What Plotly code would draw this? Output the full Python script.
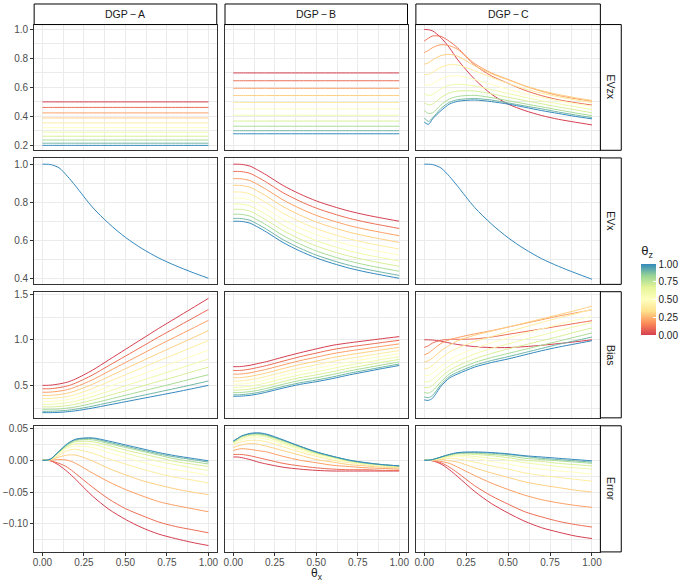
import plotly.graph_objects as go
from plotly.colors import sample_colorscale

# ---------------- data ----------------
theta_x = [0, 0.025, 0.05, 0.1, 0.15, 0.2, 0.3, 0.4, 0.5, 0.6, 0.7, 0.8, 0.9, 1.0]
theta_z = [0.0, 0.1, 0.2, 0.3, 0.4, 0.5, 0.6, 0.7, 0.8, 0.9, 1.0]

# EVzx, DGP-A and DGP-B are flat in theta_x: one level per theta_z
evzx_A = [0.500, 0.462, 0.424, 0.389, 0.355, 0.322, 0.291, 0.263, 0.237, 0.215, 0.200]
evzx_B = [0.700, 0.646, 0.594, 0.544, 0.496, 0.451, 0.408, 0.368, 0.332, 0.301, 0.280]

evzx_C = [
    [1.000, 0.998, 0.990, 0.943, 0.874, 0.790, 0.657, 0.554, 0.485, 0.440, 0.406, 0.380, 0.360, 0.341],
    [0.920, 0.940, 0.955, 0.952, 0.918, 0.872, 0.755, 0.680, 0.628, 0.580, 0.543, 0.515, 0.495, 0.478],
    [0.840, 0.855, 0.875, 0.895, 0.887, 0.862, 0.765, 0.700, 0.655, 0.610, 0.573, 0.544, 0.522, 0.505],
    [0.760, 0.770, 0.790, 0.820, 0.828, 0.815, 0.750, 0.695, 0.652, 0.611, 0.578, 0.551, 0.529, 0.510],
    [0.690, 0.690, 0.705, 0.740, 0.757, 0.755, 0.715, 0.670, 0.627, 0.590, 0.560, 0.535, 0.514, 0.495],
    [0.620, 0.615, 0.625, 0.660, 0.678, 0.680, 0.655, 0.620, 0.587, 0.557, 0.531, 0.508, 0.488, 0.470],
    [0.555, 0.545, 0.550, 0.590, 0.615, 0.622, 0.610, 0.585, 0.558, 0.532, 0.508, 0.487, 0.467, 0.447],
    [0.495, 0.480, 0.485, 0.530, 0.562, 0.575, 0.575, 0.556, 0.532, 0.509, 0.487, 0.465, 0.445, 0.425],
    [0.440, 0.420, 0.425, 0.480, 0.520, 0.538, 0.545, 0.530, 0.508, 0.487, 0.466, 0.445, 0.424, 0.405],
    [0.390, 0.365, 0.390, 0.455, 0.497, 0.515, 0.523, 0.513, 0.493, 0.472, 0.452, 0.430, 0.410, 0.392],
    [0.360, 0.345, 0.383, 0.440, 0.485, 0.504, 0.513, 0.502, 0.485, 0.463, 0.440, 0.420, 0.400, 0.383],
]

# EVx, DGP-A and DGP-C do not depend on theta_z
evx_A = [1.000, 1.000, 0.998, 0.981, 0.937, 0.885, 0.775, 0.688, 0.615, 0.556, 0.507, 0.467, 0.432, 0.400]
evx_C = [1.000, 1.000, 0.998, 0.980, 0.936, 0.883, 0.773, 0.686, 0.613, 0.553, 0.503, 0.463, 0.428, 0.395]

evx_B = [
    [1.000, 1.000, 0.999, 0.990, 0.968, 0.943, 0.888, 0.844, 0.807, 0.778, 0.753, 0.733, 0.716, 0.700],
    [0.962, 0.962, 0.961, 0.952, 0.930, 0.905, 0.850, 0.806, 0.769, 0.740, 0.715, 0.695, 0.678, 0.662],
    [0.924, 0.924, 0.923, 0.914, 0.892, 0.867, 0.812, 0.768, 0.731, 0.702, 0.677, 0.657, 0.640, 0.624],
    [0.889, 0.889, 0.888, 0.879, 0.857, 0.832, 0.777, 0.733, 0.696, 0.667, 0.642, 0.622, 0.605, 0.589],
    [0.854, 0.854, 0.853, 0.844, 0.822, 0.797, 0.742, 0.698, 0.661, 0.632, 0.607, 0.587, 0.570, 0.554],
    [0.822, 0.822, 0.821, 0.812, 0.790, 0.765, 0.710, 0.666, 0.629, 0.600, 0.575, 0.555, 0.538, 0.522],
    [0.791, 0.791, 0.790, 0.781, 0.759, 0.734, 0.679, 0.635, 0.598, 0.569, 0.544, 0.524, 0.507, 0.491],
    [0.763, 0.763, 0.762, 0.753, 0.731, 0.706, 0.651, 0.607, 0.570, 0.541, 0.516, 0.496, 0.479, 0.463],
    [0.737, 0.737, 0.736, 0.727, 0.705, 0.680, 0.625, 0.581, 0.544, 0.515, 0.490, 0.470, 0.453, 0.437],
    [0.715, 0.715, 0.714, 0.705, 0.683, 0.658, 0.603, 0.559, 0.522, 0.493, 0.468, 0.448, 0.431, 0.415],
    [0.700, 0.700, 0.699, 0.690, 0.668, 0.643, 0.588, 0.544, 0.507, 0.478, 0.453, 0.433, 0.416, 0.400],
]

bias_A = [
    [0.500, 0.500, 0.502, 0.515, 0.535, 0.570, 0.665, 0.780, 0.895, 1.010, 1.125, 1.235, 1.345, 1.455],
    [0.462, 0.462, 0.463, 0.475, 0.493, 0.525, 0.612, 0.717, 0.821, 0.926, 1.031, 1.131, 1.232, 1.333],
    [0.424, 0.424, 0.426, 0.436, 0.453, 0.482, 0.560, 0.655, 0.750, 0.845, 0.940, 1.031, 1.122, 1.214],
    [0.389, 0.389, 0.390, 0.399, 0.414, 0.440, 0.511, 0.596, 0.682, 0.767, 0.852, 0.934, 1.017, 1.101],
    [0.355, 0.355, 0.356, 0.364, 0.377, 0.400, 0.464, 0.540, 0.616, 0.692, 0.769, 0.842, 0.917, 0.992],
    [0.322, 0.322, 0.323, 0.330, 0.342, 0.362, 0.418, 0.486, 0.553, 0.621, 0.688, 0.754, 0.820, 0.888],
    [0.291, 0.291, 0.292, 0.298, 0.309, 0.326, 0.376, 0.435, 0.495, 0.554, 0.613, 0.671, 0.730, 0.790],
    [0.263, 0.263, 0.263, 0.268, 0.278, 0.293, 0.337, 0.388, 0.440, 0.492, 0.544, 0.594, 0.647, 0.700],
    [0.237, 0.237, 0.237, 0.241, 0.250, 0.263, 0.301, 0.346, 0.391, 0.436, 0.480, 0.525, 0.571, 0.617],
    [0.215, 0.215, 0.215, 0.219, 0.226, 0.238, 0.271, 0.310, 0.349, 0.388, 0.427, 0.466, 0.506, 0.548],
    [0.200, 0.200, 0.200, 0.203, 0.210, 0.220, 0.250, 0.285, 0.320, 0.355, 0.390, 0.425, 0.462, 0.500],
]

bias_B = [
    [0.705, 0.705, 0.707, 0.720, 0.740, 0.760, 0.810, 0.857, 0.900, 0.940, 0.967, 0.990, 1.013, 1.035],
    [0.663, 0.663, 0.665, 0.678, 0.697, 0.717, 0.766, 0.813, 0.854, 0.893, 0.922, 0.946, 0.971, 0.994],
    [0.623, 0.623, 0.625, 0.637, 0.656, 0.676, 0.724, 0.770, 0.809, 0.848, 0.878, 0.904, 0.930, 0.955],
    [0.584, 0.584, 0.586, 0.598, 0.616, 0.636, 0.684, 0.728, 0.766, 0.805, 0.836, 0.864, 0.891, 0.917],
    [0.547, 0.547, 0.549, 0.560, 0.578, 0.598, 0.645, 0.689, 0.725, 0.763, 0.796, 0.825, 0.854, 0.881],
    [0.512, 0.512, 0.514, 0.524, 0.541, 0.561, 0.608, 0.651, 0.686, 0.723, 0.758, 0.788, 0.818, 0.847],
    [0.479, 0.479, 0.481, 0.490, 0.507, 0.527, 0.573, 0.615, 0.649, 0.686, 0.722, 0.753, 0.785, 0.814],
    [0.448, 0.448, 0.450, 0.459, 0.475, 0.495, 0.541, 0.583, 0.615, 0.651, 0.689, 0.721, 0.754, 0.784],
    [0.420, 0.420, 0.422, 0.431, 0.446, 0.466, 0.512, 0.553, 0.584, 0.620, 0.658, 0.692, 0.725, 0.757],
    [0.396, 0.396, 0.398, 0.407, 0.422, 0.442, 0.487, 0.527, 0.558, 0.593, 0.633, 0.667, 0.701, 0.734],
    [0.380, 0.380, 0.382, 0.390, 0.405, 0.425, 0.470, 0.510, 0.540, 0.575, 0.615, 0.650, 0.685, 0.718],
]

bias_C = [
    [1.000, 1.000, 0.997, 0.985, 0.965, 0.948, 0.925, 0.915, 0.915, 0.925, 0.940, 0.958, 0.978, 1.000],
    [0.916, 0.935, 0.965, 0.995, 1.005, 1.005, 1.010, 1.030, 1.060, 1.090, 1.120, 1.150, 1.180, 1.210],
    [0.834, 0.855, 0.890, 0.960, 1.000, 1.025, 1.065, 1.100, 1.140, 1.180, 1.220, 1.260, 1.295, 1.330],
    [0.755, 0.770, 0.800, 0.880, 0.940, 0.990, 1.050, 1.095, 1.140, 1.185, 1.230, 1.275, 1.320, 1.370],
    [0.680, 0.690, 0.720, 0.800, 0.865, 0.910, 0.980, 1.035, 1.090, 1.140, 1.190, 1.240, 1.285, 1.335],
    [0.608, 0.610, 0.635, 0.710, 0.780, 0.830, 0.905, 0.965, 1.020, 1.070, 1.120, 1.170, 1.215, 1.260],
    [0.541, 0.540, 0.565, 0.645, 0.715, 0.765, 0.845, 0.905, 0.955, 1.005, 1.050, 1.100, 1.145, 1.190],
    [0.478, 0.475, 0.500, 0.590, 0.665, 0.715, 0.790, 0.850, 0.900, 0.945, 0.990, 1.035, 1.085, 1.130],
    [0.421, 0.415, 0.440, 0.540, 0.625, 0.675, 0.750, 0.805, 0.850, 0.895, 0.940, 0.985, 1.030, 1.075],
    [0.373, 0.365, 0.390, 0.510, 0.598, 0.645, 0.720, 0.772, 0.815, 0.860, 0.905, 0.950, 0.990, 1.030],
    [0.340, 0.335, 0.360, 0.490, 0.580, 0.625, 0.700, 0.750, 0.790, 0.835, 0.880, 0.920, 0.955, 0.990],
]

error_A = [
    [0.000, 0.000, -0.001, -0.008, -0.018, -0.030, -0.056, -0.077, -0.093, -0.106, -0.116, -0.123, -0.129, -0.134],
    [0.000, 0.000, -0.001, -0.005, -0.011, -0.021, -0.042, -0.061, -0.076, -0.087, -0.097, -0.104, -0.109, -0.114],
    [0.000, 0.000, 0.000, 0.001, 0.000, -0.005, -0.020, -0.034, -0.046, -0.056, -0.065, -0.071, -0.076, -0.081],
    [0.000, 0.000, 0.001, 0.005, 0.008, 0.008, -0.001, -0.013, -0.023, -0.032, -0.039, -0.045, -0.050, -0.054],
    [0.000, 0.000, 0.001, 0.008, 0.015, 0.017, 0.011, 0.002, -0.006, -0.014, -0.021, -0.027, -0.031, -0.036],
    [0.000, 0.000, 0.0015, 0.010, 0.019, 0.022, 0.020, 0.012, 0.004, -0.003, -0.010, -0.015, -0.019, -0.024],
    [0.000, 0.000, 0.002, 0.012, 0.021, 0.026, 0.025, 0.018, 0.011, 0.004, -0.002, -0.007, -0.012, -0.016],
    [0.000, 0.000, 0.002, 0.013, 0.023, 0.029, 0.029, 0.023, 0.016, 0.010, 0.004, -0.002, -0.006, -0.010],
    [0.000, 0.000, 0.002, 0.013, 0.024, 0.031, 0.032, 0.026, 0.020, 0.014, 0.008, 0.002, -0.002, -0.006],
    [0.000, 0.000, 0.002, 0.014, 0.025, 0.032, 0.034, 0.028, 0.022, 0.016, 0.010, 0.005, 0.001, -0.003],
    [0.000, 0.000, 0.002, 0.014, 0.026, 0.033, 0.035, 0.030, 0.024, 0.018, 0.012, 0.007, 0.003, -0.001],
]

error_B = [
    [0.005, 0.005, 0.004, 0.001, -0.003, -0.006, -0.011, -0.014, -0.016, -0.017, -0.017, -0.017, -0.017, -0.017],
    [0.009, 0.009, 0.009, 0.007, 0.004, 0.001, -0.005, -0.009, -0.012, -0.014, -0.015, -0.015, -0.016, -0.016],
    [0.015, 0.017, 0.018, 0.017, 0.015, 0.013, 0.006, 0.000, -0.004, -0.008, -0.010, -0.012, -0.013, -0.014],
    [0.020, 0.022, 0.024, 0.026, 0.025, 0.022, 0.015, 0.008, 0.001, -0.003, -0.007, -0.009, -0.011, -0.012],
    [0.024, 0.027, 0.029, 0.031, 0.031, 0.029, 0.021, 0.013, 0.006, 0.000, -0.004, -0.007, -0.010, -0.011],
    [0.026, 0.029, 0.032, 0.035, 0.035, 0.033, 0.025, 0.016, 0.008, 0.002, -0.003, -0.006, -0.009, -0.010],
    [0.027, 0.031, 0.034, 0.038, 0.038, 0.036, 0.027, 0.018, 0.010, 0.004, -0.002, -0.005, -0.008, -0.010],
    [0.028, 0.032, 0.036, 0.039, 0.040, 0.038, 0.029, 0.020, 0.011, 0.005, -0.001, -0.005, -0.008, -0.010],
    [0.029, 0.033, 0.037, 0.041, 0.041, 0.039, 0.031, 0.021, 0.012, 0.005, -0.001, -0.005, -0.007, -0.009],
    [0.030, 0.034, 0.038, 0.041, 0.042, 0.040, 0.031, 0.022, 0.013, 0.006, 0.000, -0.004, -0.007, -0.009],
    [0.030, 0.034, 0.038, 0.042, 0.043, 0.041, 0.032, 0.022, 0.013, 0.006, 0.000, -0.004, -0.007, -0.009],
]

error_C = [
    [0.000, 0.000, -0.001, -0.006, -0.015, -0.026, -0.049, -0.068, -0.083, -0.096, -0.106, -0.113, -0.119, -0.123],
    [0.000, 0.000, -0.001, -0.004, -0.011, -0.020, -0.040, -0.056, -0.069, -0.081, -0.089, -0.096, -0.101, -0.105],
    [0.000, 0.000, 0.000, -0.002, -0.005, -0.011, -0.024, -0.036, -0.046, -0.055, -0.062, -0.067, -0.071, -0.074],
    [0.000, 0.000, 0.000, 0.001, -0.001, -0.003, -0.012, -0.020, -0.027, -0.034, -0.039, -0.043, -0.047, -0.050],
    [0.000, 0.000, 0.000, 0.002, 0.003, 0.002, -0.003, -0.009, -0.014, -0.020, -0.024, -0.027, -0.030, -0.033],
    [0.000, 0.000, 0.001, 0.003, 0.005, 0.006, 0.003, -0.002, -0.006, -0.011, -0.014, -0.017, -0.019, -0.022],
    [0.000, 0.000, 0.001, 0.004, 0.006, 0.008, 0.006, 0.003, 0.000, -0.004, -0.007, -0.010, -0.012, -0.014],
    [0.000, 0.000, 0.001, 0.004, 0.007, 0.010, 0.009, 0.007, 0.004, 0.000, -0.002, -0.005, -0.007, -0.009],
    [0.000, 0.000, 0.001, 0.005, 0.008, 0.011, 0.011, 0.009, 0.007, 0.003, 0.001, -0.001, -0.003, -0.005],
    [0.000, 0.000, 0.001, 0.005, 0.009, 0.011, 0.012, 0.011, 0.009, 0.006, 0.003, 0.001, -0.001, -0.003],
    [0.000, 0.000, 0.001, 0.005, 0.009, 0.012, 0.013, 0.012, 0.010, 0.007, 0.005, 0.003, 0.001, -0.001],
]

col_labels = ["DGP\u2009\u2212\u2009A", "DGP\u2009\u2212\u2009B", "DGP\u2009\u2212\u2009C"]
row_labels = ["EVzx", "EVx", "Bias", "Error"]

x_ticks = [0, 0.25, 0.5, 0.75, 1.0]
x_ticktext = ["0.00", "0.25", "0.50", "0.75", "1.00"]
y_ticks = [[0.2, 0.4, 0.6, 0.8, 1.0], [0.4, 0.6, 0.8, 1.0], [0.5, 1.0, 1.5], [-0.10, -0.05, 0.0, 0.05]]
y_ticktext = [["0.2", "0.4", "0.6", "0.8", "1.0"], ["0.4", "0.6", "0.8", "1.0"],
              ["0.5", "1.0", "1.5"], ["\u22120.10", "\u22120.05", "0.00", "0.05"]]
y_minor = [[0.3, 0.5, 0.7, 0.9], [0.5, 0.7, 0.9], [0.25, 0.75, 1.25], [-0.125, -0.075, -0.025, 0.025]]
x_minor = [0.125, 0.375, 0.625, 0.875]
z_ticks = [0, 0.25, 0.5, 0.75, 1.0]
z_ticktext = ["0.00", "0.25", "0.50", "0.75", "1.00"]

# ---------------- styling / layout ----------------
W, H = 685, 585
SPECTRAL = [[0.0, "#D53E4F"], [1 / 6, "#FC8D59"], [2 / 6, "#FEE08B"], [0.5, "#FFFFBF"],
            [4 / 6, "#E6F598"], [5 / 6, "#99D594"], [1.0, "#3288BD"]]

col_px = [(33.3, 216.7), (225.0, 408.3), (416.7, 602.0)]
row_px = [(21.7, 148.3), (156.0, 283.3), (290.7, 417.7), (425.7, 552.7)]
y_ranges = [[0.166, 1.034], [0.368, 1.033], [0.143, 1.528], [-0.144, 0.054]]
x_range = [-0.05, 1.05]

FONT = "Liberation Sans, Arial, sans-serif"
TICKCOL = "#4D4D4D"
BORDER = "#333333"
GRID = "#EBEBEB"

panels = {
    (0, 0): [(z, [v] * len(theta_x)) for z, v in zip(theta_z, evzx_A)],
    (0, 1): [(z, [v] * len(theta_x)) for z, v in zip(theta_z, evzx_B)],
    (0, 2): list(zip(theta_z, evzx_C)),
    (1, 0): [(1.0, evx_A)],
    (1, 1): list(zip(theta_z, evx_B)),
    (1, 2): [(1.0, evx_C)],
    (2, 0): list(zip(theta_z, bias_A)),
    (2, 1): list(zip(theta_z, bias_B)),
    (2, 2): list(zip(theta_z, bias_C)),
    (3, 0): list(zip(theta_z, error_A)),
    (3, 1): list(zip(theta_z, error_B)),
    (3, 2): list(zip(theta_z, error_C)),
}

fig = go.Figure()
layout = {}
for r in range(4):
    for c in range(3):
        k = r * 3 + c + 1
        sx = "" if k == 1 else str(k)
        x0, x1 = col_px[c]
        y0, y1 = row_px[r]
        for z, ys in panels[(r, c)]:
            fig.add_trace(go.Scatter(
                x=theta_x, y=ys, mode="lines",
                line=dict(color=sample_colorscale(SPECTRAL, [z])[0], width=1, shape="spline", smoothing=0.8),
                xaxis="x" + sx, yaxis="y" + sx, showlegend=False, hoverinfo="skip"))
        layout["xaxis" + sx] = dict(
            domain=[x0 / W, x1 / W], range=x_range, anchor="y" + sx,
            tickvals=x_ticks, ticktext=x_ticktext, showticklabels=(r == 3),
            ticks="outside" if r == 3 else "", ticklen=3, tickcolor=BORDER, tickwidth=1,
            ticklabelstandoff=-2,
            tickfont=dict(family=FONT, size=10, color=TICKCOL),
            showgrid=True, gridcolor=GRID, gridwidth=1,
            minor=dict(tickvals=x_minor, showgrid=True, gridcolor=GRID, gridwidth=0.5, ticks=""),
            showline=True, mirror=True, linecolor=BORDER, linewidth=1, zeroline=False, fixedrange=True)
        layout["yaxis" + sx] = dict(
            domain=[1 - y1 / H, 1 - y0 / H], range=y_ranges[r], anchor="x" + sx,
            tickvals=y_ticks[r], ticktext=y_ticktext[r], showticklabels=(c == 0),
            ticks="outside" if c == 0 else "", ticklen=3, tickcolor=BORDER, tickwidth=1,
            tickfont=dict(family=FONT, size=10, color=TICKCOL),
            showgrid=True, gridcolor=GRID, gridwidth=1,
            minor=dict(tickvals=y_minor[r], showgrid=True, gridcolor=GRID, gridwidth=0.5, ticks=""),
            showline=True, mirror=True, linecolor=BORDER, linewidth=1, zeroline=False, fixedrange=True)

# colour bar (dummy invisible marker)
fig.add_trace(go.Scatter(
    x=[0.5], y=[0.5], mode="markers", xaxis="x", yaxis="y",
    marker=dict(size=1, opacity=0, color=[0.5], colorscale=SPECTRAL, cmin=0, cmax=1, showscale=True,
                colorbar=dict(
                    x=643 / W, xanchor="left", xpad=0, y=1 - 241 / H, yanchor="top", ypad=0,
                    len=94 / H, lenmode="fraction", thickness=15, thicknessmode="pixels",
                    outlinewidth=0, ticks="inside", ticklen=3, tickcolor="white", tickwidth=1,
                    tickvals=z_ticks, ticktext=z_ticktext,
                    tickfont=dict(family=FONT, size=10, color="#1A1A1A"),
                    title=dict(text="\u03b8<sub>z</sub>", side="top", font=dict(family=FONT, size=13, color="#1A1A1A")))),
    showlegend=False, hoverinfo="skip"))

shapes = []
annotations = []
for c, lab in enumerate(col_labels):
    x0, x1 = col_px[c]
    shapes.append(dict(type="rect", xref="paper", yref="paper", x0=x0 / W, x1=x1 / W,
                       y0=1 - 21.7 / H, y1=1 - 1 / H, line=dict(color="black", width=1), fillcolor="white", layer="above"))
    annotations.append(dict(text=lab, xref="paper", yref="paper", x=(x0 + x1) / 2 / W, y=1 - 11.5 / H,
                            showarrow=False, xanchor="center", yanchor="middle",
                            font=dict(family=FONT, size=10.5, color="#1A1A1A")))
for r, lab in enumerate(row_labels):
    y0, y1 = row_px[r]
    shapes.append(dict(type="rect", xref="paper", yref="paper", x0=602 / W, x1=623 / W,
                       y0=1 - y1 / H, y1=1 - y0 / H, line=dict(color="black", width=1), fillcolor="white", layer="above"))
    annotations.append(dict(text=lab, xref="paper", yref="paper", x=612.5 / W, y=1 - (y0 + y1) / 2 / H,
                            showarrow=False, textangle=90, xanchor="center", yanchor="middle",
                            font=dict(family=FONT, size=10.5, color="#1A1A1A")))
annotations.append(dict(text="\u03b8<sub>x</sub>", xref="paper", yref="paper", x=317.7 / W, y=0.0,
                        showarrow=False, xanchor="center", yanchor="bottom",
                        font=dict(family=FONT, size=12, color="#1A1A1A")))

fig.update_layout(
    width=W, height=H, autosize=False, margin=dict(l=0, r=0, t=0, b=0),
    paper_bgcolor="white", plot_bgcolor="white", showlegend=False,
    shapes=shapes, annotations=annotations, **layout)

# remove the browser's default 8px page margin so the figure sits at the window origin
fig.write_html("out.html", config={"displayModeBar": False},
               post_script="document.body.style.margin='0';document.body.style.overflow='hidden';")
